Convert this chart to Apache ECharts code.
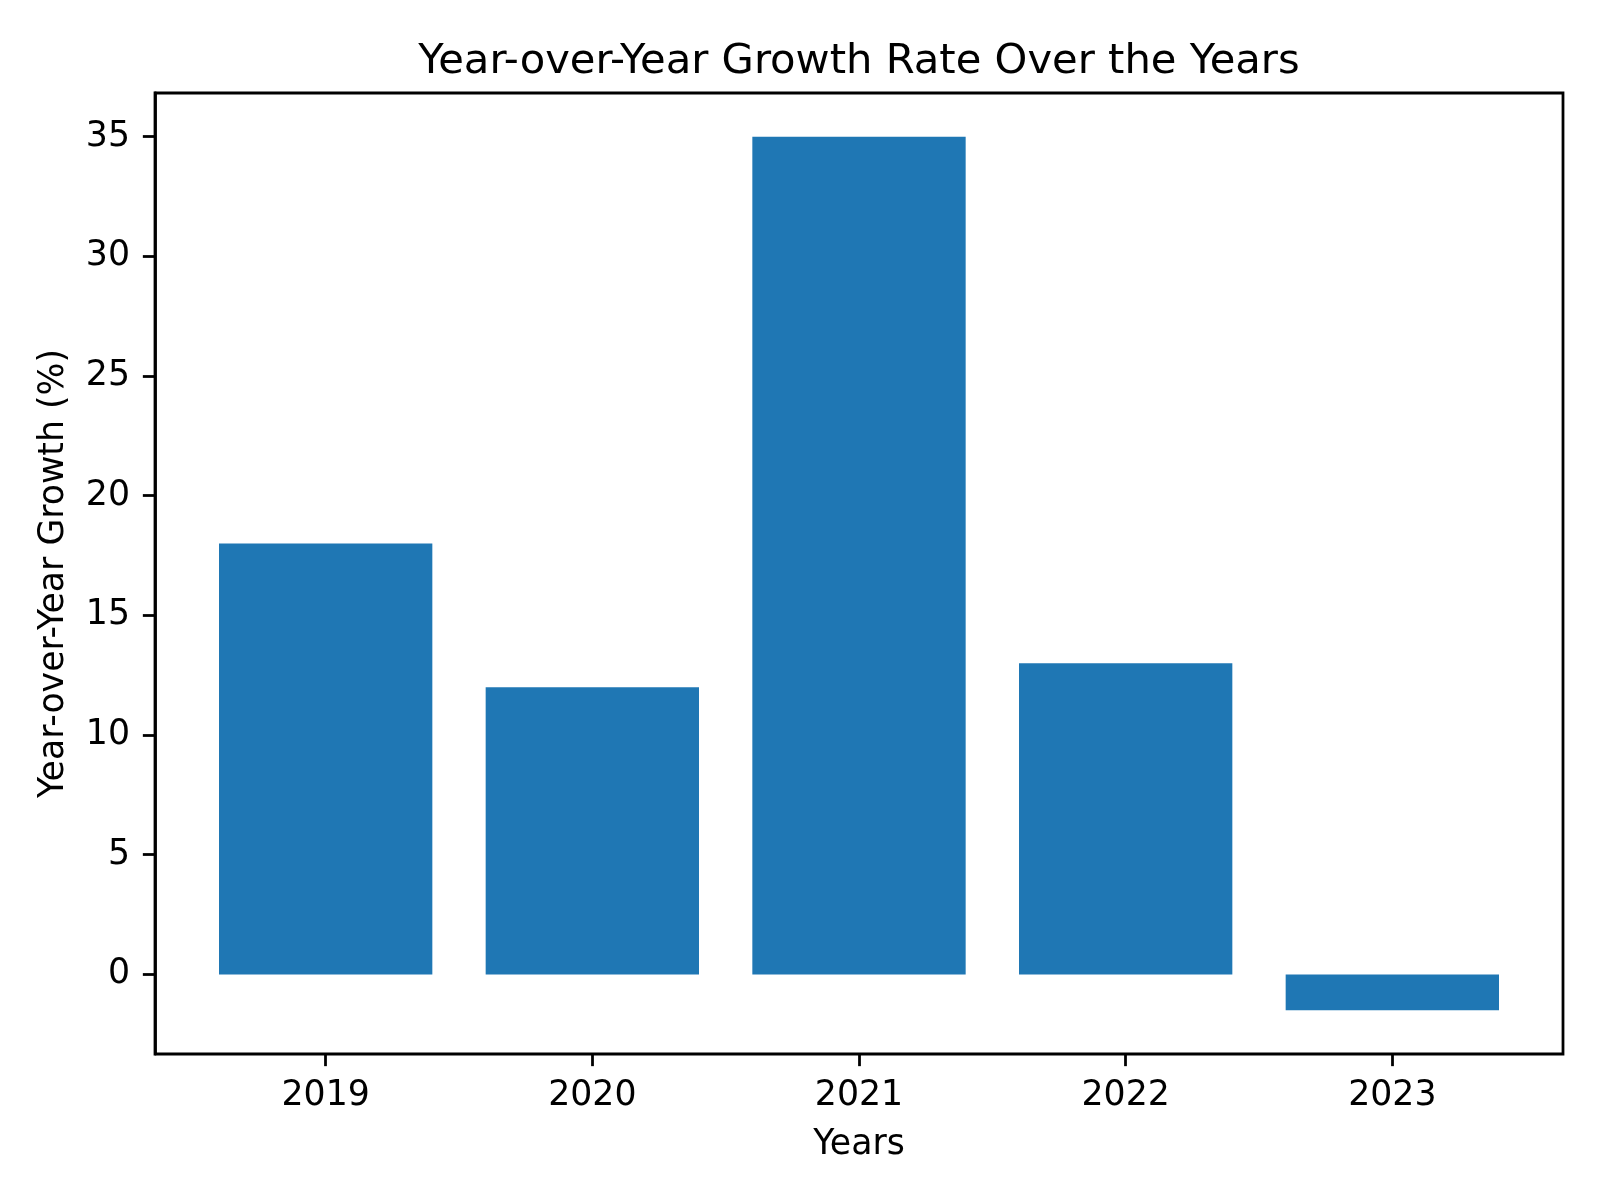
<!DOCTYPE html>
<html>
<head>
<meta charset="utf-8">
<script src="https://cdn.jsdelivr.net/npm/echarts@6/dist/echarts.min.js"></script>
<style>
html,body{margin:0;padding:0;background:#fff;}
#chart{width:1600px;height:1200px;}
</style>
</head>
<body>
<div id="chart"></div>
<script>
var years = ['2019', '2020', '2021', '2022', '2023'];
var growth = [18, 12, 35, 13, -1.5];
var yTicks = [0, 5, 10, 15, 20, 25, 30, 35];
var titleText = 'Year-over-Year Growth Rate Over the Years';

var FONT = 'DejaVu Sans';
var FS = 34.7, TFS = 41.7;
var LW = 2.78, TL = 12.15;
var gridLeft = 155, gridTop = 93, gridRight = 37, gridBottom = 146;
var gridW = 1600 - gridLeft - gridRight;
// matplotlib x range: -0.64 .. 4.64 (5.28 units); category bands cover 5 units
var inset = gridW * 0.14 / 5.28;
var yMin = -3.325, yMax = 36.825;

// centre the title over the plot area
var mctx = document.createElement('canvas').getContext('2d');
mctx.font = TFS + 'px "' + FONT + '"';
var titleW = mctx.measureText(titleText).width;
var titleLeft = gridLeft + gridW / 2 - titleW / 2;

var chart = echarts.init(document.getElementById('chart'), null, {renderer: 'canvas'});
chart.setOption({
  animation: false,
  backgroundColor: '#fff',
  title: {
    text: titleText,
    left: titleLeft,
    top: 41,
    padding: 0,
    textStyle: {fontFamily: FONT, fontSize: TFS, fontWeight: 'normal', color: '#000'}
  },
  grid: [
    {left: gridLeft, top: gridTop, right: gridRight, bottom: gridBottom,
     show: true, borderColor: '#000', borderWidth: LW, backgroundColor: 'transparent'},
    {left: gridLeft + inset, top: gridTop, right: gridRight + inset, bottom: gridBottom}
  ],
  xAxis: [
    {gridIndex: 0, type: 'value', min: 0, max: 1, show: false},
    {gridIndex: 1, type: 'category', data: years,
     axisLine: {show: false, onZero: false},
     axisTick: {show: true, alignWithLabel: true, length: TL, lineStyle: {color: '#000', width: LW}},
     axisLabel: {fontFamily: FONT, fontSize: FS, color: '#000', margin: 24},
     name: 'Years', nameLocation: 'middle', nameGap: 73,
     nameTextStyle: {fontFamily: FONT, fontSize: FS, color: '#000'},
     splitLine: {show: false}}
  ],
  yAxis: [
    {gridIndex: 0, type: 'value', min: yMin, max: yMax,
     axisLine: {show: true, onZero: false, lineStyle: {color: '#000', width: LW}},
     axisTick: {show: true, inside: false, length: TL, customValues: yTicks, lineStyle: {color: '#000', width: LW}},
     axisLabel: {fontFamily: FONT, fontSize: FS, color: '#000', margin: 25, customValues: yTicks},
     splitLine: {show: false},
     name: 'Year-over-Year Growth (%)', nameLocation: 'middle', nameRotate: 90, nameGap: 84,
     nameTextStyle: {fontFamily: FONT, fontSize: FS, color: '#000'}},
    {gridIndex: 1, type: 'value', min: yMin, max: yMax, show: false, splitLine: {show: false}}
  ],
  series: [{
    type: 'bar',
    xAxisIndex: 1, yAxisIndex: 1,
    data: growth,
    barWidth: '80%',
    itemStyle: {color: '#1f77b4'}
  }]
});
</script>
</body>
</html>
